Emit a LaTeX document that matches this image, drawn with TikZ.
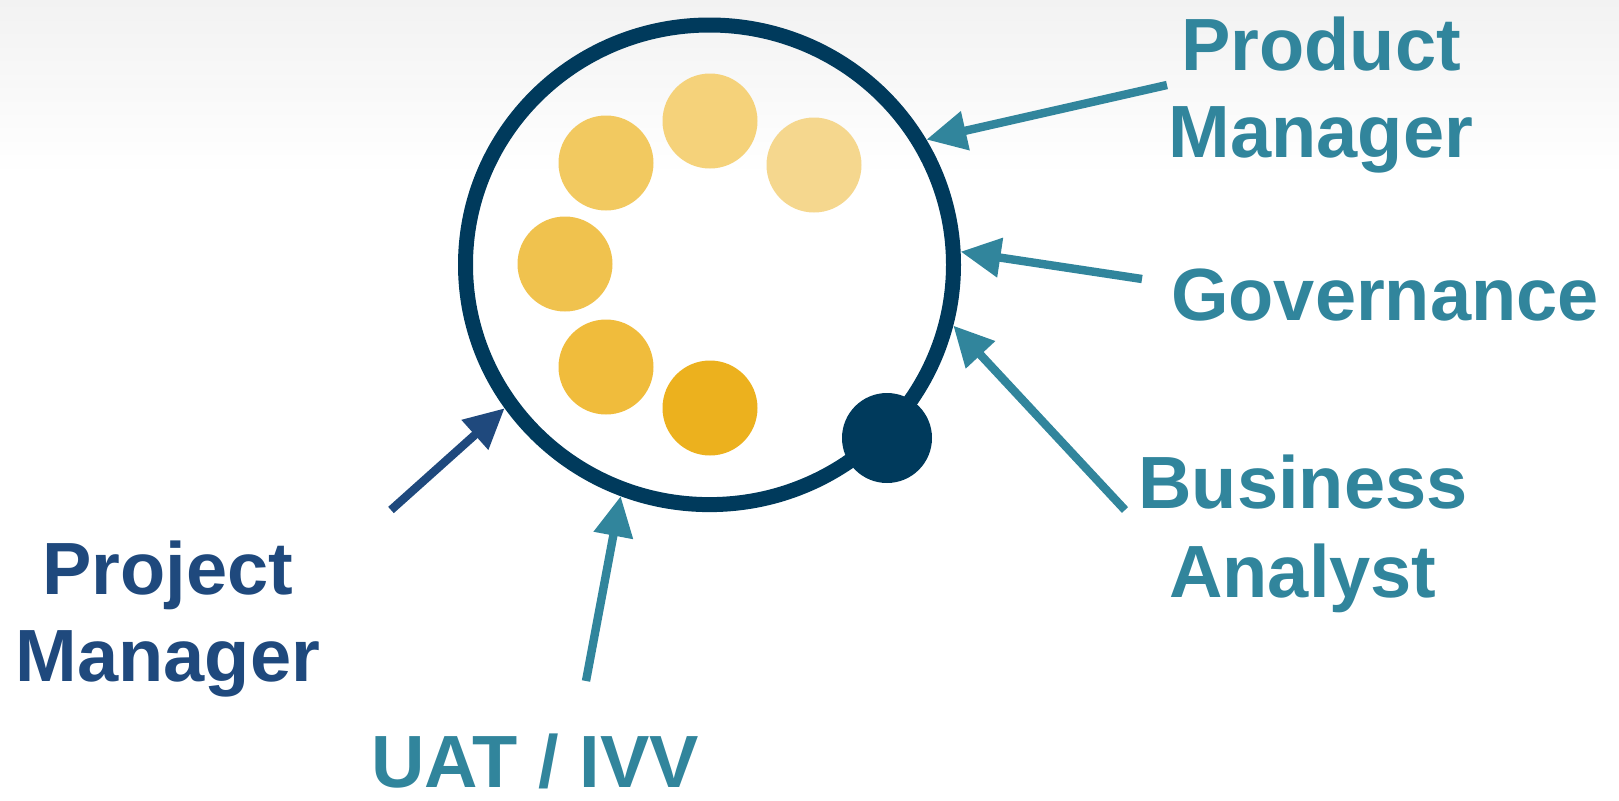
\documentclass[tikz,border=0pt]{standalone}
\usepackage{fontspec}
\setmainfont{Liberation Sans}
\usetikzlibrary{arrows.meta,shapes.geometric}
\definecolor{ringblue}{HTML}{003A5C}
\definecolor{roleteal}{HTML}{31859C}
\definecolor{pmblue}{HTML}{1F497D}
\definecolor{bgtop}{HTML}{F2F2F2}
\definecolor{dotA}{HTML}{F5D27A}
\definecolor{dotB}{HTML}{F2C960}
\definecolor{dotC}{HTML}{F5D78E}
\definecolor{dotD}{HTML}{F0C24E}
\definecolor{dotE}{HTML}{F0BC3C}
\definecolor{dotF}{HTML}{ECB11E}
\begin{document}
\begin{tikzpicture}[x=0.5pt,y=-0.5pt,
  member/.style={circle,inner sep=0pt,minimum size=47.5pt,fill=#1},
  rolelabel/.style={anchor=base,text=#1,font=\fontsize{37pt}{44pt}\selectfont\bfseries,inner sep=0pt},
  rolearrow/.style={draw=#1,line width=4.2pt,-{Triangle[length=20pt,width=19pt]}}]
\useasboundingbox (0,0) rectangle (1619,800);
\shade[top color=bgtop,bottom color=white] (0,0) rectangle (1619,175);

% team ring and its members
\node[ellipse,draw=ringblue,line width=7.5pt,minimum width=244pt,minimum height=239.8pt,inner sep=0pt] (ring) at (709.5,264.8) {};
\node[member=dotA] (m1) at (710,121) {};
\node[member=dotB] (m2) at (606,163) {};
\node[member=dotC] (m3) at (814,165) {};
\node[member=dotD] (m4) at (565,264) {};
\node[member=dotE] (m5) at (606,367) {};
\node[member=dotF] (m6) at (710,408) {};
\node[circle,inner sep=0pt,minimum size=45pt,fill=ringblue] (core) at (887,438) {};

% role labels
\node[rolelabel=roleteal] (prod1) at (1321,70) {Product};
\node[rolelabel=roleteal] (prod2) at (1321,157) {Manager};
\node[rolelabel=roleteal] (gov) at (1385,320) {Governance};
\node[rolelabel=roleteal] (ba1) at (1303,508) {Business};
\node[rolelabel=roleteal] (ba2) at (1303,597) {Analyst};
\node[rolelabel=pmblue] (pm1) at (168,594) {Project};
\node[rolelabel=pmblue] (pm2) at (168,681) {Manager};
\node[rolelabel=roleteal] (uat) at (535,787) {UAT / IVV};

% arrow tails
\coordinate (prodT) at (1167,85);
\coordinate (govT) at (1142,279);
\coordinate (baT) at (1125,510);
\coordinate (uatT) at (586,681);
\coordinate (pmT) at (391,510);

% arrows onto the ring
\draw[rolearrow=roleteal] (prodT) -- (ring.30.3);
\draw[rolearrow=roleteal] (govT) -- (ring.3);
\draw[rolearrow=roleteal] (baT) -- (ring.-14);
\draw[rolearrow=roleteal] (uatT) -- (ring.249.6);
\draw[rolearrow=pmblue] (pmT) -- (ring.215.3);
\end{tikzpicture}
\end{document}
